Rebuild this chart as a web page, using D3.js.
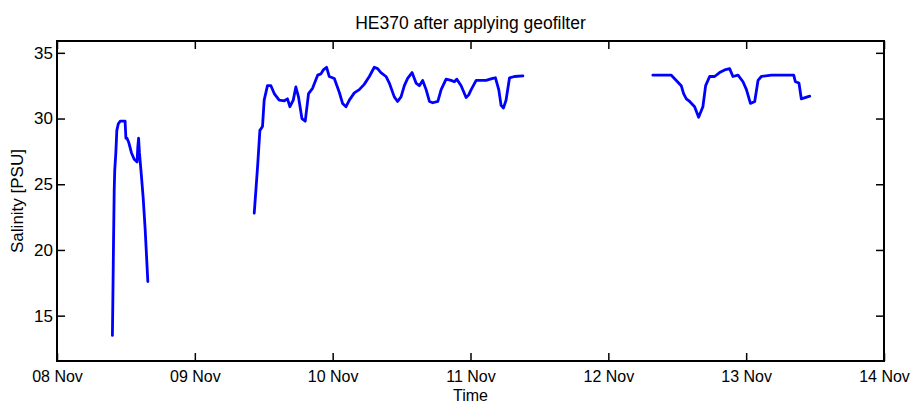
<!DOCTYPE html>
<html>
<head>
<meta charset="utf-8">
<script src="https://cdn.jsdelivr.net/npm/d3@7"></script>
<style>
  body { margin: 0; background: #fff; }
  text { font-family: "Liberation Sans", Arial, sans-serif; fill: #000; }
</style>
</head>
<body>
<svg id="chart"></svg>
<script>
// days since 08 Nov 00:00 and salinity [PSU], three track pieces
var seg1Days = [0.402, 0.405, 0.410, 0.415, 0.419, 0.427, 0.434, 0.445, 0.458, 0.475, 0.494, 0.500, 0.508, 0.520, 0.540, 0.560, 0.581, 0.586, 0.592, 0.598, 0.603, 0.612, 0.625, 0.640, 0.659];
var seg1Sal  = [13.5, 16.0, 20.5, 24.5, 26.1, 27.4, 29.1, 29.6, 29.8, 29.8, 29.8, 28.5, 28.5, 28.2, 27.4, 26.9, 26.7, 27.8, 28.5, 27.4, 26.8, 25.7, 24.0, 21.5, 17.6];

var seg2Days = [1.431, 1.455, 1.472, 1.491, 1.503, 1.527, 1.552, 1.576, 1.612, 1.649, 1.672, 1.690, 1.714, 1.733, 1.752, 1.777, 1.801, 1.825, 1.854, 1.891, 1.915, 1.932, 1.956, 1.975, 2.012, 2.048, 2.072, 2.097, 2.121, 2.157, 2.193, 2.229, 2.266, 2.302, 2.326, 2.350, 2.387, 2.411, 2.447, 2.471, 2.496, 2.520, 2.544, 2.576, 2.605, 2.629, 2.653, 2.678, 2.702, 2.726, 2.763, 2.787, 2.823, 2.859, 2.883, 2.900, 2.932, 2.968, 2.987, 3.005, 3.041, 3.077, 3.113, 3.161, 3.181, 3.205, 3.222, 3.239, 3.258, 3.283, 3.319, 3.380];
var seg2Sal  = [22.8, 26.3, 29.1, 29.4, 31.4, 32.5, 32.5, 31.9, 31.4, 31.35, 31.5, 30.9, 31.4, 32.4, 31.65, 30.0, 29.8, 31.9, 32.3, 33.3, 33.4, 33.7, 33.9, 33.2, 33.05, 32.0, 31.15, 30.9, 31.4, 31.95, 32.2, 32.6, 33.2, 33.9, 33.8, 33.5, 33.2, 32.7, 31.65, 31.3, 31.65, 32.5, 33.05, 33.5, 32.7, 32.5, 32.9, 32.2, 31.3, 31.2, 31.3, 32.2, 33.0, 32.9, 32.8, 33.0, 32.5, 31.6, 31.8, 32.2, 32.9, 32.9, 32.9, 33.05, 33.1, 32.2, 31.0, 30.8, 31.4, 33.1, 33.2, 33.25];

var seg3Days = [4.323, 4.457, 4.493, 4.529, 4.546, 4.566, 4.590, 4.626, 4.655, 4.686, 4.706, 4.735, 4.771, 4.807, 4.844, 4.880, 4.904, 4.941, 4.977, 5.002, 5.031, 5.062, 5.086, 5.110, 5.183, 5.267, 5.345, 5.357, 5.383, 5.400, 5.461];
var seg3Sal  = [33.3, 33.3, 32.9, 32.5, 31.9, 31.5, 31.3, 30.9, 30.1, 30.9, 32.5, 33.2, 33.2, 33.5, 33.7, 33.8, 33.2, 33.3, 32.8, 32.2, 31.15, 31.3, 32.9, 33.2, 33.3, 33.3, 33.3, 32.8, 32.7, 31.5, 31.7];

var yTicks = [15, 20, 25, 30, 35];
var xTickDays = [0, 1, 2, 3, 4, 5, 6];
var titleText = "HE370 after applying geofilter";
var xLabel = "Time";
var yLabel = "Salinity [PSU]";

var W = 917, H = 405;
var margin = {left: 57, right: 33, top: 41, bottom: 44};
var iw = W - margin.left - margin.right, ih = H - margin.top - margin.bottom;

var base = Date.UTC(2000, 10, 8);
function toDate(d){ return new Date(base + d * 86400000); }

var svg = d3.select("#chart").attr("width", W).attr("height", H);
var g = svg.append("g").attr("transform", "translate(" + margin.left + "," + margin.top + ")");

var x = d3.scaleUtc().domain([toDate(0), toDate(6)]).range([0, iw]);
var y = d3.scaleLinear().domain([11.55, 35.9]).range([ih, 0]);

var xt = xTickDays.map(toDate);
var fmt = d3.utcFormat("%d %b");

function styleAxis(sel, fs){
  sel.select(".domain").remove();
  sel.selectAll(".tick line").attr("stroke", "#000").attr("stroke-width", 1.5);
  sel.selectAll(".tick text").style("font-size", fs);
}

g.append("g").attr("transform", "translate(0," + ih + ")")
  .call(d3.axisBottom(x).tickValues(xt).tickFormat(fmt).tickSizeInner(-8).tickPadding(10))
  .call(styleAxis, "16px");
g.append("g")
  .call(d3.axisTop(x).tickValues(xt).tickFormat("").tickSizeInner(-8))
  .call(styleAxis, "16px");
g.append("g")
  .call(d3.axisLeft(y).tickValues(yTicks).tickSizeInner(-8).tickPadding(4))
  .call(styleAxis, "17px");
g.append("g").attr("transform", "translate(" + iw + ",0)")
  .call(d3.axisRight(y).tickValues(yTicks).tickFormat("").tickSizeInner(-8))
  .call(styleAxis, "17px");

g.append("rect").attr("width", iw).attr("height", ih)
  .attr("fill", "none").attr("stroke", "#000").attr("stroke-width", 2);

var line = d3.line().x(function(d){ return x(toDate(d[0])); }).y(function(d){ return y(d[1]); });
[[seg1Days, seg1Sal], [seg2Days, seg2Sal], [seg3Days, seg3Sal]].forEach(function(s){
  var pts = d3.zip(s[0], s[1]);
  g.append("path").datum(pts).attr("d", line)
    .attr("fill", "none").attr("stroke", "#0000ff").attr("stroke-width", 2.8)
    .attr("stroke-linejoin", "round").attr("stroke-linecap", "round");
});

svg.append("text").attr("x", margin.left + iw / 2).attr("y", 29)
  .attr("text-anchor", "middle").style("font-size", "17.5px").text(titleText);
svg.append("text").attr("x", margin.left + iw / 2).attr("y", 401)
  .attr("text-anchor", "middle").style("font-size", "16px").text(xLabel);
svg.append("text").attr("transform", "translate(23," + (margin.top + ih / 2) + ") rotate(-90)")
  .attr("text-anchor", "middle").style("font-size", "17px").text(yLabel);
</script>
</body>
</html>
